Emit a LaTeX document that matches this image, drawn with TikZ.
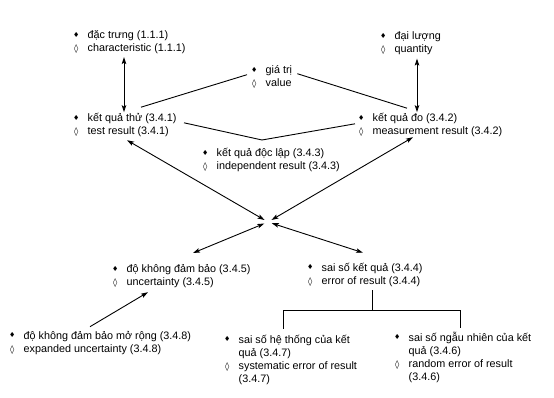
\documentclass[tikz,border=0pt]{standalone}
\usepackage{fontspec}
\setmainfont{Liberation Sans}
\newfontfamily\symfont{DejaVu Sans}
\usetikzlibrary{arrows.meta}

\newcommand{\fd}{\makebox[6pt]{\raisebox{1.2pt}{\symfont\fontsize{7}{7}\selectfont ♦}}}
\newcommand{\od}{\makebox[6pt]{\symfont\bfseries\fontsize{8.5}{8.5}\selectfont ◊}}
\newcommand{\term}[2]{\begin{tabular}[t]{@{}c@{\hspace{8.5pt}}l@{}}\fd & #1\\ \od & #2\end{tabular}}

\begin{document}
\begin{tikzpicture}[
  x=1pt, y=-1pt,
  term/.style={inner sep=0pt, anchor=base west, font=\fontsize{10.8}{13}\selectfont},
  link/.style={line width=0.9pt},
  dbl/.style={link, {Stealth[length=7pt, width=4.5pt, inset=1.5pt]}-{Stealth[length=7pt, width=4.5pt, inset=1.5pt]}},
  one/.style={link, -{Stealth[length=7pt, width=4.5pt, inset=1.5pt]}}
]
\useasboundingbox (0,0) rectangle (554,398);

\node[term] (chr) at (73,38.5) {\term{đặc trưng (1.1.1)}{characteristic (1.1.1)}};
\node[term] (qty) at (380,40) {\term{đại lượng}{quantity}};
\node[term] (val) at (251,74) {\term{giá trị}{value}};
\node[term] (tst) at (73,121.5) {\term{kết quả thử (3.4.1)}{test result (3.4.1)}};
\node[term] (mea) at (358,121.5) {\term{kết quả đo (3.4.2)}{measurement result (3.4.2)}};
\node[term] (ind) at (202,157) {\term{kết quả độc lập (3.4.3)}{independent result (3.4.3)}};
\node[term] (unc) at (112,272.3) {\term{độ không đảm bảo (3.4.5)}{uncertainty (3.4.5)}};
\node[term] (err) at (307,271) {\term{sai số kết quả (3.4.4)}{error of result (3.4.4)}};
\node[term] (exp) at (9,339) {\term{độ không đảm bảo mở rộng (3.4.8)}{expanded uncertainty (3.4.8)}};
\node[term] (sys) at (224,343) {\term{sai số hệ thống của kết\\ & quả (3.4.7)}{systematic error of result\\ & (3.4.7)}};
\node[term] (rnd) at (394,341) {\term{sai số ngẫu nhiên của kết\\ & quả (3.4.6)}{random error of result\\ & (3.4.6)}};

\coordinate (vtx) at (262,140);
\coordinate (hub) at (268,222);

\draw[dbl, shorten <=1.5pt] ([xshift=51pt]chr.south west) -- ([xshift=51pt]tst.north west);
\draw[dbl, shorten <=1.5pt] ([xshift=37pt]qty.south west) -- ([xshift=59pt]mea.north west);
\draw[link] ([shift={(68pt,5pt)}]tst.north west) -- ([shift={(-4pt,-10pt)}]val.north west);
\draw[link] ([shift={(5pt,-9pt)}]val.north east) -- ([shift={(49pt,4pt)}]mea.north west);
\draw[link] ([shift={(111pt,-10.6pt)}]tst.north west) -- (vtx) -- ([shift={(-3pt,-11.6pt)}]mea.north west);

\draw[dbl, shorten >=4pt] ([shift={(54pt,-1.6pt)}]tst.south west) -- (hub);
\draw[dbl, shorten >=4pt] ([shift={(55pt,1.4pt)}]mea.south west) -- (hub);
\draw[dbl, shorten >=4pt] ([shift={(81pt,10pt)}]unc.north west) -- (hub);
\draw[dbl, shorten >=4pt] ([shift={(56pt,9pt)}]err.north west) -- (hub);

\draw[one] ([shift={(81pt,3pt)}]exp.north west) -- ([shift={(36pt,-2.8pt)}]unc.south west);

\draw[link] ([shift={(65pt,-2pt)}]err.south west) -- ++(0,20) coordinate (split);
\draw[link] ([shift={(59pt,5pt)}]sys.north west) |- (split) -| ([shift={(66pt,3pt)}]rnd.north west);
\end{tikzpicture}
\end{document}
